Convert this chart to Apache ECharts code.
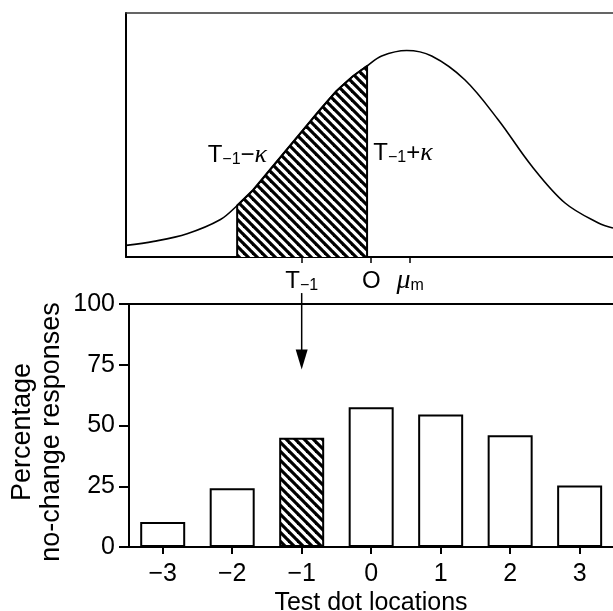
<!DOCTYPE html>
<html><head><meta charset="utf-8">
<script src="https://cdn.jsdelivr.net/npm/echarts@6/dist/echarts.min.js"></script>
<style>html,body{margin:0;padding:0;background:#fff}#c{width:613px;height:611px}</style>
</head><body><div id="c"></div>
<script>
// ---- data ----
const categories = [-3, -2, -1, 0, 1, 2, 3];
const noChangePct = [10.3, 24.2, 45, 57.5, 54.5, 46, 25.3];
const hatchedCategory = -1;
const yTicks = [0, 25, 50, 75, 100];
// distribution curve (top panel), x in test-dot units, y in arbitrary height units
const curveX = [-3.53, -3.13, -2.65, -2.17, -1.93, -1.70, -1.46, -1.22, -0.98, -0.74, -0.50, -0.26, -0.06, 0.15, 0.51, 0.87, 1.35, 1.83, 2.31, 2.79, 3.27, 3.48];
const curveY = [11.6, 15.6, 23.3, 37.5, 51.5, 67, 87, 107, 127, 147, 166, 181, 191, 201, 206.5, 201, 177, 137, 91, 54, 34, 29];
const hatchFrom = -1.93, hatchTo = -0.06;
const markerX = [-1, 0, 0.56];
const markerLabels = ['{t|T}{s|−1}', '{t|O}', '{mu|μ}{s|m}'];
const regionLabels = ['{t|T}{s|−1}{t|−}{k|κ}', '{t|T}{s|−1}{t|+}{k|κ}'];
const regionLabelPos = [[-1.50, 102], [0.03, 104]];
const arrowFromTo = [104.5, 73];

// ---- helpers ----
function makeHatch() {
  const n = 9;
  const c = document.createElement('canvas'); c.width = n; c.height = n;
  const g = c.getContext('2d');
  g.fillStyle = '#fff'; g.fillRect(0, 0, n, n);
  g.strokeStyle = '#000'; g.lineWidth = 3.2;
  for (const x0 of [-n, 0, n]) { g.beginPath(); g.moveTo(x0 - 2, -2); g.lineTo(x0 + n + 2, n + 2); g.stroke(); }
  return c;
}
const FONT = '"Liberation Sans", Arial, Helvetica, sans-serif';
const SERIF = '"Liberation Serif", "DejaVu Serif", serif';
const hatch = { image: makeHatch(), repeat: 'repeat' };
const rich = {
  t: { fontSize: 24, fontFamily: FONT, color: '#000', lineHeight: 26 },
  s: { fontSize: 16, fontFamily: FONT, color: '#000', lineHeight: 16, verticalAlign: 'bottom' },
  k: { fontSize: 26, fontFamily: SERIF, fontStyle: 'italic', color: '#000', lineHeight: 26 },
  mu: { fontSize: 28, fontFamily: SERIF, fontStyle: 'italic', color: '#000', lineHeight: 26 }
};
const curveData = curveX.map((x, i) => [x, curveY[i]]);
const hatchData = [[hatchFrom, 0]].concat(curveData.filter(p => p[0] >= hatchFrom && p[0] <= hatchTo)).concat([[hatchTo, 0]]);
const barData = categories.map((c, i) => ({
  value: [c, noChangePct[i]],
  itemStyle: c === hatchedCategory ? { color: hatch } : {}
}));
const minus = v => (v < 0 ? '−' + Math.abs(v) : String(v));

const chart = echarts.init(document.getElementById('c'), null, { renderer: 'canvas' });
chart.setOption({
  animation: false,
  backgroundColor: '#fff',
  textStyle: { fontFamily: FONT },
  grid: [
    { left: 126, top: 13, right: 0, bottom: 354, outerBoundsMode: 'none', containLabel: false },
    { left: 129, top: 304, right: 0, bottom: 64, outerBoundsMode: 'none', containLabel: false }
  ],
  xAxis: [
    { gridIndex: 0, type: 'value', min: -3.53, max: 3.48, position: 'bottom',
      axisLine: { show: true, onZero: false, lineStyle: { color: '#000', width: 2 } },
      axisTick: { show: true, customValues: markerX, length: 6, lineStyle: { color: '#000', width: 1.5 } },
      axisLabel: { show: true, customValues: markerX, margin: 11, rich: rich,
        formatter: v => markerLabels[markerX.findIndex(m => Math.abs(m - v) < 1e-6)] || '' },
      splitLine: { show: false } },
    { gridIndex: 0, type: 'value', min: -3.53, max: 3.48, position: 'top',
      axisLine: { show: true, onZero: false, lineStyle: { color: '#333', width: 1.5 } },
      axisTick: { show: false }, axisLabel: { show: false }, splitLine: { show: false } },
    { gridIndex: 1, type: 'value', min: -3.485, max: 3.48, position: 'bottom',
      name: 'Test dot locations', nameLocation: 'middle', nameGap: 44,
      nameTextStyle: { fontSize: 25, color: '#000', fontFamily: FONT },
      axisLine: { show: true, onZero: false, lineStyle: { color: '#000', width: 2 } },
      axisTick: { show: true, customValues: categories, length: 7, lineStyle: { color: '#000', width: 2 } },
      axisLabel: { show: true, customValues: categories, margin: 15, fontSize: 25, color: '#000', fontFamily: FONT, formatter: minus },
      splitLine: { show: false } },
    { gridIndex: 1, type: 'value', min: -3.485, max: 3.48, position: 'top',
      axisLine: { show: true, onZero: false, lineStyle: { color: '#000', width: 2 } },
      axisTick: { show: false }, axisLabel: { show: false }, splitLine: { show: false } }
  ],
  yAxis: [
    { gridIndex: 0, type: 'value', min: 0, max: 244, position: 'left',
      axisLine: { show: true, onZero: false, lineStyle: { color: '#000', width: 2 } },
      axisTick: { show: false }, axisLabel: { show: false }, splitLine: { show: false } },
    { gridIndex: 1, type: 'value', min: yTicks[0], max: yTicks[yTicks.length - 1], interval: 25, position: 'left',
      axisLine: { show: true, onZero: false, lineStyle: { color: '#000', width: 2 } },
      axisTick: { show: true, length: 10, lineStyle: { color: '#000', width: 2 } },
      axisLabel: { show: true, margin: 14, fontSize: 25, color: '#000', fontFamily: FONT },
      splitLine: { show: false } }
  ],
  graphic: [
    { type: 'text', x: 37, y: 432, rotation: Math.PI / 2,
      style: { text: 'Percentage\nno-change responses', fontSize: 27, fontFamily: FONT, fill: '#000',
        align: 'center', verticalAlign: 'middle', lineHeight: 29 } }
  ],
  series: [
    { type: 'line', xAxisIndex: 0, yAxisIndex: 0, data: hatchData, smooth: false, symbol: 'none',
      lineStyle: { color: '#000', width: 2 }, areaStyle: { color: hatch, opacity: 1 }, z: 2 },
    { type: 'line', xAxisIndex: 0, yAxisIndex: 0, data: curveData, smooth: 0.35, symbol: 'none',
      lineStyle: { color: '#000', width: 1.6 }, z: 3,
      markPoint: { symbol: 'circle', symbolSize: 0, silent: true,
        data: regionLabelPos.map((p, i) => ({ coord: p, label: {
          show: true, position: i === 0 ? 'left' : 'right', distance: 0, rich: rich,
          formatter: regionLabels[i] } })) } },
    { type: 'bar', xAxisIndex: 2, yAxisIndex: 1, data: barData, barWidth: 45,
      itemStyle: { color: '#fff', borderColor: '#000', borderWidth: 2 } },
    { type: 'custom', xAxisIndex: 2, yAxisIndex: 1, clip: false, silent: true, z: 5,
      data: [[hatchedCategory, arrowFromTo[0], arrowFromTo[1]]],
      renderItem: function (params, api) {
        const a = api.coord([api.value(0), api.value(1)]);
        const b = api.coord([api.value(0), api.value(2)]);
        const hw = 6, hl = 20;
        return { type: 'group', children: [
          { type: 'line', shape: { x1: a[0], y1: a[1], x2: b[0], y2: b[1] - hl + 2 },
            style: { stroke: '#000', lineWidth: 1.5 } },
          { type: 'polygon', shape: { points: [[b[0] - hw, b[1] - hl], [b[0] + hw, b[1] - hl], [b[0], b[1]]] },
            style: { fill: '#000' } }
        ] };
      } }
  ]
});
</script></body></html>
